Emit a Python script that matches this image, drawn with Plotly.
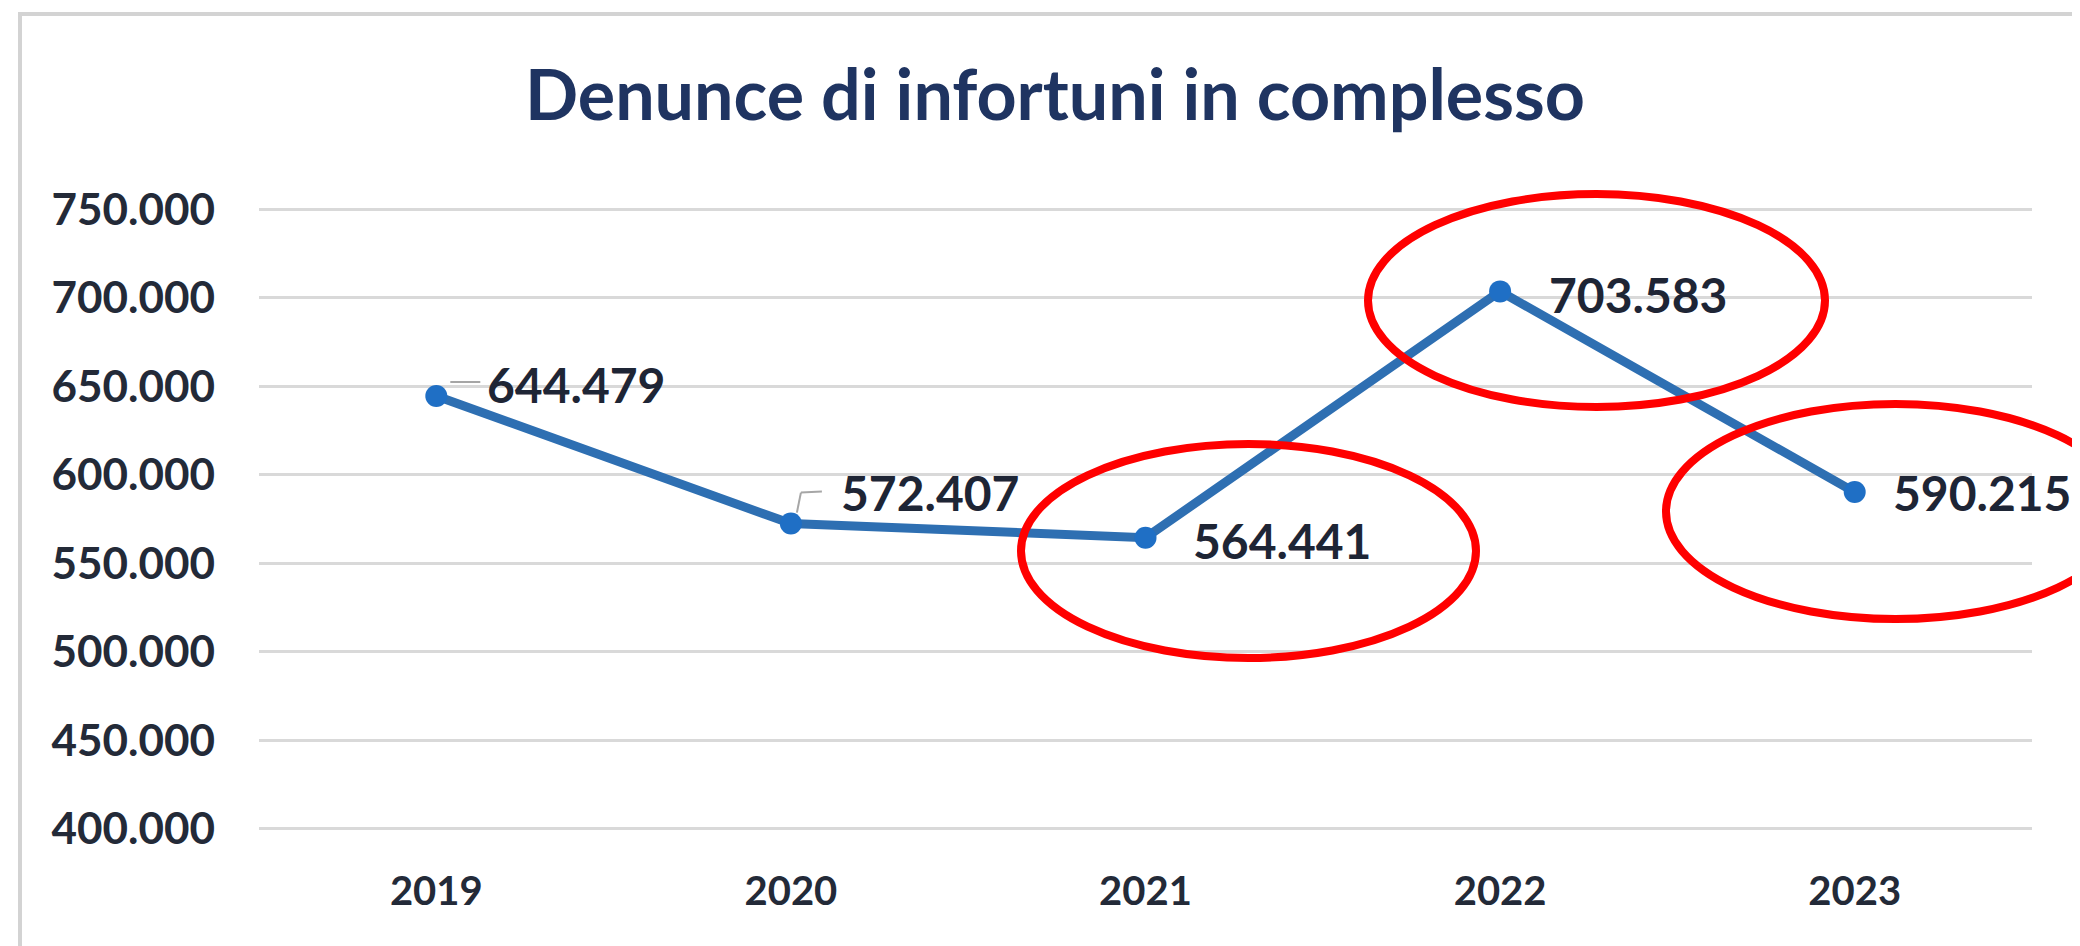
import plotly.graph_objects as go

# ---- data ----
years = ["2019", "2020", "2021", "2022", "2023"]
denunce = [644479, 572407, 564441, 703583, 590215]
y_ticks = [400000, 450000, 500000, 550000, 600000, 650000, 700000, 750000]
title_text = "Denunce di infortuni in complesso"

# ---- styling / layout constants ----
PAGE_W, PAGE_H = 2080, 946
OFF = 8                                   # browser default body margin
FW, FH = PAGE_W - OFF, PAGE_H - OFF       # figure size
PL, PR, PT, PB = 259, 2032, 208, 830      # plot area in page pixels
label_shift = [(49, 12), (48, 31), (45, -3), (47, -3), (36, 0)]  # label offsets (px)
FONT = "Lato"
TXT = "#232a38"


def fmt(v):
    return f"{v:,}".replace(",", ".")


def px2paper_x(X):
    return (X - PL) / (PR - PL)


def px2paper_y(Y):
    return (PB - Y) / (PB - PT)


fig = go.Figure()
fig.add_trace(go.Scatter(
    x=list(range(len(years))), y=denunce, mode="lines+markers",
    line=dict(color="#2E6FB2", width=9),
    marker=dict(color="#1F6FC5", size=22),
    hoverinfo="skip", showlegend=False, cliponaxis=False,
))

annotations = []
for i, (v, (dx, dy)) in enumerate(zip(denunce, label_shift)):
    annotations.append(dict(
        x=i, y=v, xref="x", yref="y", text=fmt(v), showarrow=False,
        xanchor="left", yanchor="middle", xshift=dx, yshift=dy,
        font=dict(family=FONT, size=48, color="#1e2535", weight="bold"),
    ))

shapes = []
# chart frame (gray border)
shapes.append(dict(type="rect", xref="paper", yref="paper",
                   x0=px2paper_x(20), x1=px2paper_x(2120),
                   y0=px2paper_y(990), y1=px2paper_y(14),
                   line=dict(color="#D3D3D3", width=4), layer="below"))
# label leader lines (pixel offsets from data point: x0, y0, x1, y1; +y is up)
leaders = [(0, [(14, 14, 44, 14)]), (1, [(6, 11, 10, 31), (10, 31, 31, 32)])]
for idx, segs in leaders:
    for (a, b, c, d) in segs:
        shapes.append(dict(type="line", xref="x", yref="y",
                           xsizemode="pixel", ysizemode="pixel",
                           xanchor=idx, yanchor=denunce[idx],
                           x0=a, x1=c, y0=b, y1=d,
                           line=dict(color="#A6A6A6", width=2), layer="below"))
# red ellipses (page-pixel boxes: left, top, right, bottom)
ellipses = [(1021, 444, 1476, 658), (1368, 194, 1825, 407), (1666, 404, 2125, 619)]
for (l, t, r, b) in ellipses:
    shapes.append(dict(type="circle", xref="paper", yref="paper",
                       x0=px2paper_x(l), x1=px2paper_x(r),
                       y0=px2paper_y(b), y1=px2paper_y(t),
                       line=dict(color="#FF0000", width=8), layer="above"))

fig.update_layout(
    width=FW, height=FH,
    margin=dict(l=PL - OFF, r=PAGE_W - PR, t=PT - OFF, b=PAGE_H - PB),
    paper_bgcolor="white", plot_bgcolor="white",
    title=dict(text=title_text, x=(1055 - OFF) / FW, xanchor="center",
               y=1 - (95 - OFF) / FH, yanchor="middle", xref="container", yref="container",
               font=dict(family=FONT, size=70, color="#1F3461", weight="bold")),
    xaxis=dict(range=[-0.5, 4.5], tickvals=list(range(len(years))), ticktext=years,
               showgrid=False, zeroline=False,
               showline=False, ticks="", ticklabelstandoff=34,
               tickfont=dict(family=FONT, size=40, color=TXT, weight="bold")),
    yaxis=dict(range=[399300, 750700], tickvals=y_ticks,
               ticktext=[fmt(t) for t in y_ticks],
               showgrid=True, gridcolor="#D9D9D9", gridwidth=3,
               zeroline=False, showline=False, ticks="", ticklabelstandoff=43,
               tickfont=dict(family=FONT, size=44, color=TXT, weight="bold")),
    annotations=annotations, shapes=shapes,
)

fig.write_html("out.html")
